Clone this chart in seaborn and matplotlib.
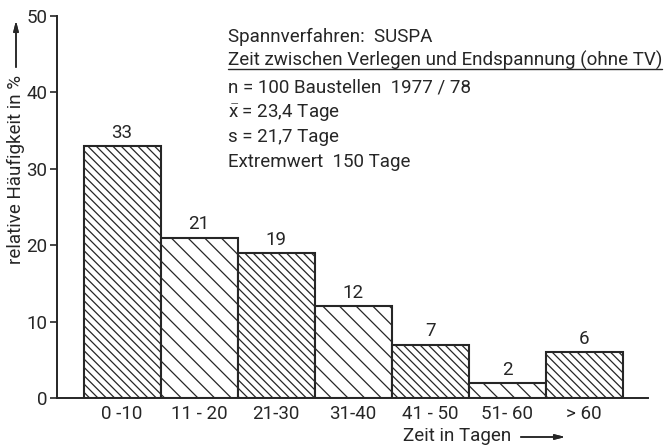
import matplotlib
matplotlib.use("Agg")
import matplotlib.pyplot as plt
from matplotlib.lines import Line2D
import seaborn as sns
import pandas as pd

# Häufigkeitsverteilung der Zeit zwischen Verlegen und Endspannung
klassen = ["0 -10", "11 - 20", "21-30", "31-40", "41 - 50", "51- 60", "> 60"]
haeufigkeit = [33, 21, 19, 12, 7, 2, 6]
schraffur = ["\\\\\\\\", "\\\\", "\\\\\\\\", "\\\\", "\\\\\\\\", "\\\\", "\\\\\\\\"]
y_ticks = [0, 10, 20, 30, 40, 50]

info_zeilen = [
    "Spannverfahren:  SUSPA",
    "Zeit zwischen Verlegen und Endspannung (ohne TV)",
    "n = 100 Baustellen  1977 / 78",
    r"$\bar{\mathrm{x}}$ = 23,4 Tage",
    "s = 21,7 Tage",
    "Extremwert  150 Tage",
]

sns.set_style("white")
ink = "#262626"
fs = 13.5
plt.rcParams["font.family"] = ["Roboto", "DejaVu Sans"]
plt.rcParams["mathtext.fontset"] = "custom"
plt.rcParams["mathtext.rm"] = "Roboto"
plt.rcParams["hatch.linewidth"] = 0.9
plt.rcParams["hatch.color"] = ink
plt.rcParams["text.color"] = ink

df = pd.DataFrame({"klasse": klassen, "wert": haeufigkeit})

fig = plt.figure(figsize=(6.64, 4.46), dpi=100)
ax = fig.add_axes([57 / 664, 1 - 398 / 446, (648 - 57) / 664, (398 - 16) / 446])

sns.barplot(data=df, x="klasse", y="wert", width=1.0, color="white",
            edgecolor=ink, linewidth=1.5, saturation=1, ax=ax)
for patch, h in zip(ax.patches, schraffur):
    patch.set_hatch(h)
    patch.set_facecolor("white")

ax.bar_label(ax.containers[0], padding=3, fontsize=fs, color=ink)

ax.set_xlim(-0.845, 6.83)
ax.set_ylim(0, 50)
ax.set_yticks(y_ticks)
ax.set_xlabel("")
ax.set_ylabel("")
for side in ("top", "right"):
    ax.spines[side].set_visible(False)
for side in ("left", "bottom"):
    ax.spines[side].set_color(ink)
    ax.spines[side].set_linewidth(1.4)
ax.tick_params(axis="y", direction="out", length=5, width=1.2, color=ink,
               labelsize=fs, labelcolor=ink, pad=2, left=True)
ax.tick_params(axis="x", length=0, labelsize=fs, labelcolor=ink, pad=5)

# Achsenbeschriftungen mit Pfeilen
fig.text(16 / 664, 1 - 169 / 446, "relative Häufigkeit in %", rotation=90,
         ha="center", va="center", fontsize=fs)
fig.add_artist(plt.annotate("", xy=(16 / 664, 1 - 18 / 446), xytext=(16 / 664, 1 - 70 / 446),
                            xycoords="figure fraction",
                            arrowprops=dict(arrowstyle="-|>,head_length=0.6,head_width=0.15",
                                            color=ink, lw=1.1)))
fig.text(403 / 664, 1 - 441 / 446, "Zeit in Tagen", ha="left", va="baseline", fontsize=fs)
fig.add_artist(plt.annotate("", xy=(568 / 664, 1 - 437 / 446), xytext=(518 / 664, 1 - 437 / 446),
                            xycoords="figure fraction",
                            arrowprops=dict(arrowstyle="-|>,head_length=0.6,head_width=0.15",
                                            color=ink, lw=1.1)))

# Kenndaten
baselines = [42, 66, 92, 117, 142, 167]
texte = []
for zeile, yb in zip(info_zeilen, baselines):
    texte.append(fig.text(228 / 664, 1 - yb / 446, zeile, ha="left", va="baseline",
                          fontsize=fs))

fig.canvas.draw()
bb = texte[1].get_window_extent()
y_ul = 1 - 69 / 446
fig.add_artist(Line2D([bb.x0 / 664, bb.x1 / 664], [y_ul, y_ul],
                      transform=fig.transFigure, color=ink, lw=1.0))

fig.savefig("out.png", dpi=100, facecolor="white")
